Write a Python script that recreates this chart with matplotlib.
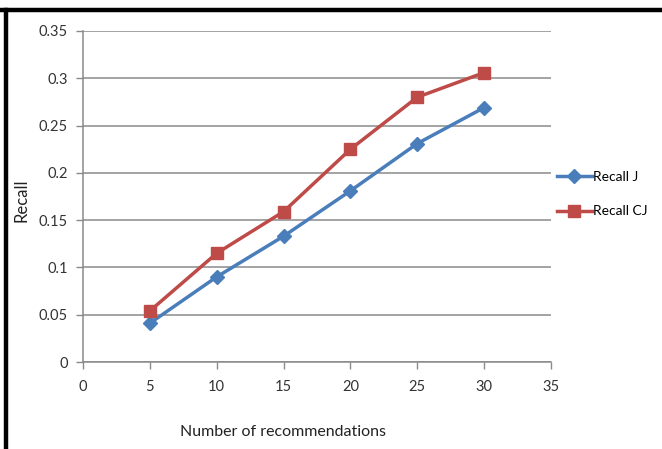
import matplotlib.pyplot as plt
from matplotlib.lines import Line2D

# Recall per number of recommendations
n_recs = [5, 10, 15, 20, 25, 30]
recall_j = [0.041, 0.090, 0.133, 0.181, 0.231, 0.269]
recall_cj = [0.054, 0.115, 0.159, 0.225, 0.280, 0.306]

plt.rcParams["font.family"] = ["Lato", "DejaVu Sans"]

fig = plt.figure(figsize=(6.62, 4.49), dpi=100)
ax = fig.add_axes([83 / 662, 1 - 362 / 449, 468 / 662, 331 / 449])

ax.plot(n_recs, recall_j, color="#4A7EBB", lw=2.5, marker="D", ms=7,
        label="Recall J", zorder=3)
ax.plot(n_recs, recall_cj, color="#BE4B48", lw=2.5, marker="s", ms=8,
        label="Recall CJ", zorder=3)

ax.set_xlim(0, 35)
ax.set_ylim(0, 0.35)
ax.set_xticks(range(0, 36, 5))
ax.set_yticks([0, 0.05, 0.1, 0.15, 0.2, 0.25, 0.3, 0.35])
ax.set_yticklabels(["0", "0.05", "0.1", "0.15", "0.2", "0.25", "0.3", "0.35"])
ax.grid(axis="y", color="#8a8a8a", lw=1.1)
ax.set_axisbelow(True)
for s in ["top", "right"]:
    ax.spines[s].set_visible(False)
for s in ["left", "bottom"]:
    ax.spines[s].set_color("#8a8a8a")
    ax.spines[s].set_linewidth(1.1)
ax.tick_params(colors="#8a8a8a", labelcolor="#333333", labelsize=10.5,
               length=5, width=1)
ax.tick_params(axis="x", pad=8)
ax.tick_params(axis="y", pad=6)

fig.text(22 / 662, 1 - 200 / 449, "Recall", rotation=90, ha="center",
         va="center", fontsize=12, color="#222222")
fig.text(283 / 662, 1 - 432 / 449, "Number of recommendations", ha="center",
         va="center", fontsize=11.5, color="#222222")

fig.legend(loc="center left", bbox_to_anchor=(557 / 662, 1 - 194 / 449),
           frameon=False, fontsize=10, handlelength=2.5, handletextpad=0.1,
           labelspacing=1.65, borderpad=0, borderaxespad=0)

# black frame on the top and left edges
fig.add_artist(Line2D([0, 1], [1 - 10 / 449, 1 - 10 / 449], color="black",
                      lw=3.2, transform=fig.transFigure))
fig.add_artist(Line2D([6 / 662, 6 / 662], [0, 1 - 10 / 449], color="black",
                      lw=3.2, transform=fig.transFigure))

fig.savefig("out.png", dpi=100)
